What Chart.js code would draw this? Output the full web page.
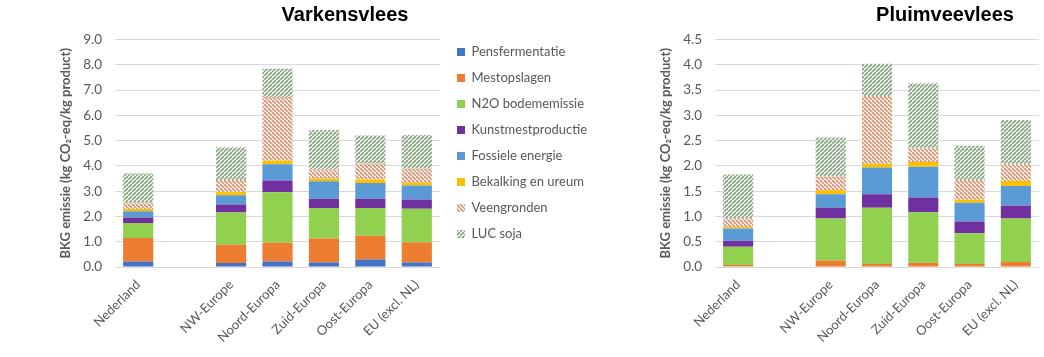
<!DOCTYPE html>
<html><head><meta charset="utf-8">
<script src="https://cdn.jsdelivr.net/npm/chart.js@4.4.1/dist/chart.umd.min.js"></script>
<style>
html,body{margin:0;padding:0;background:#fff;}
#w{position:relative;width:1044px;height:357px;overflow:hidden;}
#c1{position:absolute;left:0;top:0;}
#c2{position:absolute;left:640px;top:0;}
</style></head><body>
<div id="w"><canvas id="c1" width="640" height="357"></canvas><canvas id="c2" width="404" height="357"></canvas></div>
<script>
// ---------- DATA ----------
const categories = ['Nederland', '', 'NW-Europe', 'Noord-Europa', 'Zuid-Europa', 'Oost-Europa', 'EU (excl. NL)'];
const seriesNames = ['Pensfermentatie', 'Mestopslagen', 'N2O bodememissie', 'Kunstmestproductie', 'Fossiele energie', 'Bekalking en ureum', 'Veengronden', 'LUC soja'];
const titlePork = 'Varkensvlees';
const titlePoultry = 'Pluimveevlees';
const yAxisTitle = 'BKG emissie (kg CO\u2082-eq/kg product)';

// Varkensvlees
const porkPens  = [0.22, null, 0.16, 0.22, 0.18, 0.30, 0.18];
const porkMest  = [0.93, null, 0.72, 0.74, 0.95, 0.94, 0.80];
const porkN2O   = [0.59, null, 1.28, 2.00, 1.20, 1.09, 1.32];
const porkKunst = [0.22, null, 0.31, 0.46, 0.37, 0.37, 0.37];
const porkFoss  = [0.25, null, 0.37, 0.64, 0.69, 0.62, 0.55];
const porkBek   = [0.08, null, 0.13, 0.14, 0.10, 0.14, 0.12];
const porkVeen  = [0.25, null, 0.47, 2.53, 0.37, 0.64, 0.55];
const porkLUC   = [1.16, null, 1.30, 1.11, 1.56, 1.10, 1.33];

// Pluimveevlees
const poulPens  = [0.00, null, 0.00, 0.00, 0.00, 0.00, 0.00];
const poulMest  = [0.04, null, 0.13, 0.06, 0.085, 0.06, 0.10];
const poulN2O   = [0.36, null, 0.83, 1.11, 1.00, 0.61, 0.86];
const poulKunst = [0.12, null, 0.21, 0.27, 0.29, 0.23, 0.25];
const poulFoss  = [0.24, null, 0.27, 0.53, 0.61, 0.37, 0.39];
const poulBek   = [0.03, null, 0.08, 0.07, 0.09, 0.06, 0.10];
const poulVeen  = [0.17, null, 0.27, 1.34, 0.27, 0.39, 0.33];
const poulLUC   = [0.87, null, 0.77, 0.64, 1.29, 0.68, 0.88];

const porkTicks = [0, 1, 2, 3, 4, 5, 6, 7, 8, 9];
const poultryTicks = [0, 0.5, 1, 1.5, 2, 2.5, 3, 3.5, 4, 4.5];

// ---------- STYLES ----------
function hatch(color, dir) {
  const s = 4;
  const c = document.createElement('canvas');
  c.width = s; c.height = s;
  const x = c.getContext('2d');
  x.fillStyle = '#ffffff'; x.fillRect(0, 0, s, s);
  x.strokeStyle = color; x.lineWidth = 1.8;
  for (let k = -1; k <= 1; k++) {
    x.beginPath();
    if (dir === '/') { x.moveTo(k * s, s); x.lineTo(k * s + s, 0); }
    else { x.moveTo(k * s, 0); x.lineTo(k * s + s, s); }
    x.stroke();
  }
  return x.createPattern(c, 'repeat');
}
const fills = ['#4472C4', '#ED7D31', '#92D050', '#7030A0', '#5B9BD5', '#FFC000',
  hatch('#D9987A', '\\'), hatch('#8DAA86', '/')];

const porkSeries = [porkPens, porkMest, porkN2O, porkKunst, porkFoss, porkBek, porkVeen, porkLUC];
const poulSeries = [poulPens, poulMest, poulN2O, poulKunst, poulFoss, poulBek, poulVeen, poulLUC];

const gray = '#595959';
const FONT = 'Lato, "Open Sans", sans-serif';

function datasets(series) {
  return series.map((d, i) => ({
    label: seriesNames[i], data: d, backgroundColor: fills[i],
    borderWidth: 0, stack: 's', barPercentage: 0.65, categoryPercentage: 1
  }));
}

const titlePlugin = {
  id: 'ttl',
  afterDraw(chart, args, o) {
    const c = chart.ctx; c.save();
    c.font = 'bold 20px "Liberation Sans", Arial, sans-serif';
    c.fillStyle = '#000'; c.textAlign = 'center'; c.textBaseline = 'alphabetic';
    c.fillText(o.text, o.x, o.y); c.restore();
  }
};
const legendFix = {
  id: 'legendFix',
  afterInit(chart) {
    const lg = chart.legend; if (!lg) return;
    const orig = lg.fit;
    lg.fit = function () { orig.call(this); if (this.options.display) this.width = 200; };
  },
  afterLayout(chart, args, o) {
    const lg = chart.legend; if (!lg || !lg.options.display) return;
    const dx = o.left - lg.left; lg.left += dx; lg.right += dx;
    const dy = o.top - lg.top; lg.top += dy; lg.bottom += dy;
  }
};

function makeChart(id, series, ticks, title, titleX, showLegend, padLeft, padRight) {
  const yMax = ticks[ticks.length - 1];
  const step = ticks[1] - ticks[0];
  return new Chart(document.getElementById(id), {
    type: 'bar',
    data: { labels: categories, datasets: datasets(series) },
    options: {
      responsive: false, animation: false,
      layout: { padding: { left: padLeft, right: padRight, top: 39.5, bottom: 0 } },
      plugins: {
        tooltip: { enabled: false },
        ttl: { text: title, x: titleX, y: 21 },
        legendFix: { left: 444, top: 32.5 },
        legend: {
          display: showLegend, position: 'right', align: 'start',
          labels: { boxWidth: 8, boxHeight: 8, padding: 13, color: gray, font: { family: FONT, size: 13 } }
        }
      },
      scales: {
        x: {
          stacked: true,
          grid: { display: false }, border: { display: false },
          ticks: { color: gray, font: { family: FONT, size: 13 }, minRotation: 45, maxRotation: 45, autoSkip: false, padding: 2 },
          afterFit(s) { s.height = 90; }
        },
        y: {
          stacked: true, min: 0, max: yMax,
          grid: { color: '#D9D9D9', lineWidth: 1, drawTicks: false }, border: { display: false },
          ticks: { stepSize: step, color: gray, padding: 13, font: { family: FONT, size: 13.5 }, callback: v => Number(v).toFixed(1) },
          title: { display: true, text: yAxisTitle, color: gray, font: { family: FONT, size: 13, weight: 'bold' }, padding: { top: 3, bottom: 0 } },
          afterFit(s) { s.width = 60; }
        }
      }
    },
    plugins: [titlePlugin, legendFix]
  });
}

makeChart('c1', porkSeries, porkTicks, titlePork, 345, true, 55, 0);
makeChart('c2', poulSeries, poultryTicks, titlePoultry, 305, false, 15, 5);
</script>
</body></html>
